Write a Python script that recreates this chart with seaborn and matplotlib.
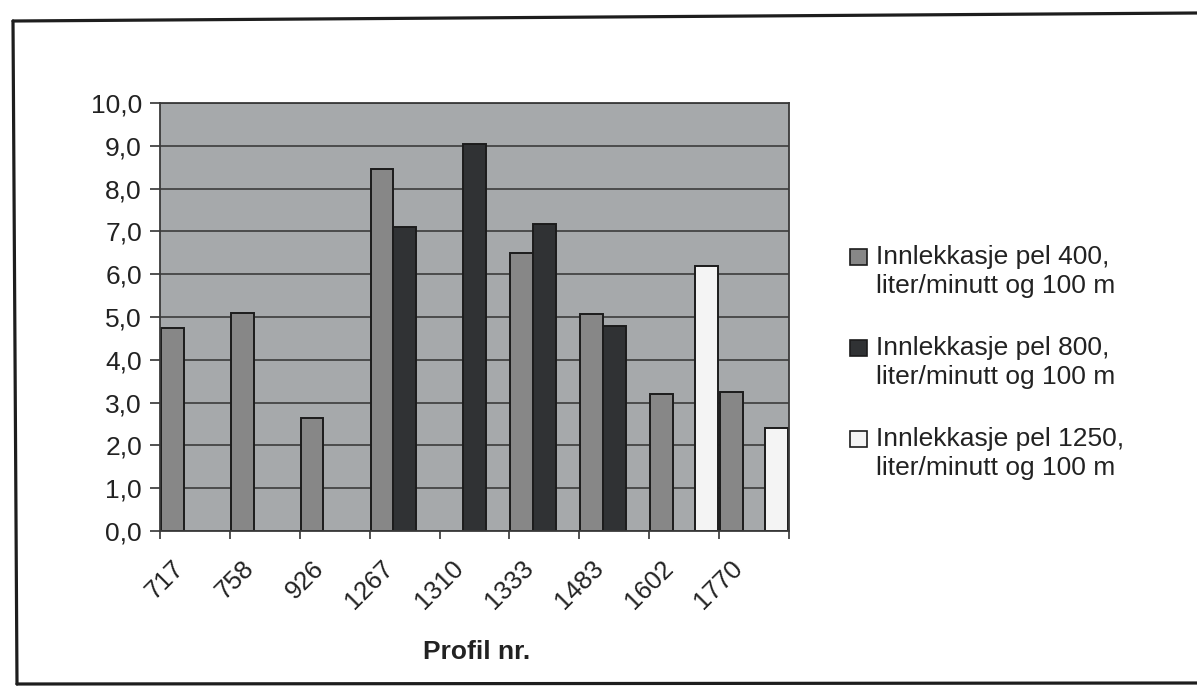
import numpy as np
import pandas as pd
import matplotlib
matplotlib.use("Agg")
import matplotlib.pyplot as plt
import seaborn as sns
from matplotlib.patches import Rectangle, Patch
from matplotlib.legend_handler import HandlerPatch
from matplotlib.lines import Line2D
from matplotlib.ticker import FuncFormatter
import matplotlib.transforms as mtransforms

# ---------------- data ----------------
categories = ["717", "758", "926", "1267", "1310", "1333", "1483", "1602", "1770"]
series_names = [
    "Innlekkasje pel 400,\nliter/minutt og 100 m",
    "Innlekkasje pel 800,\nliter/minutt og 100 m",
    "Innlekkasje pel 1250,\nliter/minutt og 100 m",
]
pel400 = [4.75, 5.1, 2.65, 8.45, None, 6.5, 5.07, 3.2, 3.25]
pel800 = [None, None, None, 7.1, 9.05, 7.17, 4.78, None, None]
pel1250 = [None, None, None, None, None, None, None, 6.2, 2.4]
y_ticks = [0, 1, 2, 3, 4, 5, 6, 7, 8, 9, 10]
x_label = "Profil nr."

# ---------------- style ----------------
W, H = 1197, 686
colors = ["#878787", "#303234", "#f4f4f4"]
edge = "#1c1c1c"
bg = "#a6a9ab"
txt = "#222222"

sns.set_style("white")
plt.rcParams['font.family'] = ['Liberation Sans', 'DejaVu Sans']

rows = []
for name, vals in zip(series_names, [pel400, pel800, pel1250]):
    for c, v in zip(categories, vals):
        if v is not None:
            rows.append({"Profil": c, "Serie": name, "Verdi": v})
df = pd.DataFrame(rows)

fig = plt.figure(figsize=(W / 100, H / 100), dpi=100)
fig.patch.set_facecolor("white")
ax = fig.add_axes([160 / W, 1 - 531 / H, 629 / W, 428 / H])

sns.barplot(data=df, x="Profil", y="Verdi", hue="Serie", order=categories,
            hue_order=series_names, palette=colors, width=0.97, dodge=True,
            edgecolor=edge, linewidth=1.4, saturation=1, legend=False,
            errorbar=None, ax=ax)

ax.set_facecolor(bg)
ax.set_xlim(-0.5, len(categories) - 0.5)
ax.set_ylim(0, 10)
ax.set_axisbelow(True)
ax.grid(False)
ax.yaxis.grid(True, color="#3c3c3c", lw=1.2)
for s in ax.spines.values():
    s.set_color("#3a3a3a")
    s.set_linewidth(1.3)
    s.set_visible(True)

ax.set_yticks(y_ticks)
ax.yaxis.set_major_formatter(FuncFormatter(lambda v, p: f"{v:.1f}".replace(".", ",")))
ax.tick_params(axis="y", which="major", length=7, width=1.2, color="#333333",
               direction="out", pad=6, labelsize=19, labelcolor=txt, left=True)

ax.set_xticks(np.arange(-0.5, len(categories), 1), minor=True)
ax.tick_params(axis="x", which="minor", length=6, width=1.2, color="#333333",
               direction="out", bottom=True)
ax.tick_params(axis="x", which="major", length=0, pad=24, labelsize=18.5,
               labelcolor=txt)
shift = mtransforms.ScaledTranslation(-15 / 100, 0, fig.dpi_scale_trans)
for lab in ax.get_xticklabels():
    lab.set_rotation(45)
    lab.set_ha("right")
    lab.set_va("center")
    lab.set_rotation_mode("anchor")
    lab.set_transform(lab.get_transform() + shift)

ax.set_ylabel("")
ax.set_xlabel(x_label, fontsize=19, fontweight="bold", color=txt, va="center")
ax.xaxis.set_label_coords((477 - 160) / 629, (531 - 652) / 428)


# ---------------- legend ----------------
class FirstLineHandler(HandlerPatch):
    def __init__(self, size, lift, **kw):
        super().__init__(**kw)
        self.size = size
        self.lift = lift

    def create_artists(self, legend, orig_handle, xdescent, ydescent,
                       width, height, fontsize, trans):
        y0 = -ydescent + height / 2 + self.lift - self.size / 2
        p = Rectangle((-xdescent, y0), self.size, self.size,
                      facecolor=orig_handle.get_facecolor(),
                      edgecolor=edge, lw=1.2, transform=trans)
        return [p]


handles = [Patch(facecolor=c, edgecolor=edge) for c in colors]
hmap = {h: FirstLineHandler(12, 10.5) for h in handles}
leg = fig.legend(handles, series_names, handler_map=hmap, loc="upper left",
                 bbox_to_anchor=(850 / W, 1 - 245 / H), bbox_transform=fig.transFigure,
                 frameon=False, fontsize=19, handlelength=12 / 19,
                 handletextpad=0.35, labelspacing=1.45, borderpad=0, borderaxespad=0)
for t in leg.get_texts():
    t.set_linespacing(1.25)
    t.set_color(txt)

# ---------------- outer frame ----------------
fr = dict(transform=fig.transFigure, color="#1e1e1e", lw=2.3)
fig.add_artist(Line2D([13 / W, 17 / W], [1 - 21 / H, 1 - 684 / H], **fr))
fig.add_artist(Line2D([13 / W, 1.0], [1 - 21 / H, 1 - 13 / H], **fr))
fig.add_artist(Line2D([17 / W, 1.0], [1 - 684 / H, 1 - 683 / H], **fr))

fig.savefig("out.png", dpi=100)
